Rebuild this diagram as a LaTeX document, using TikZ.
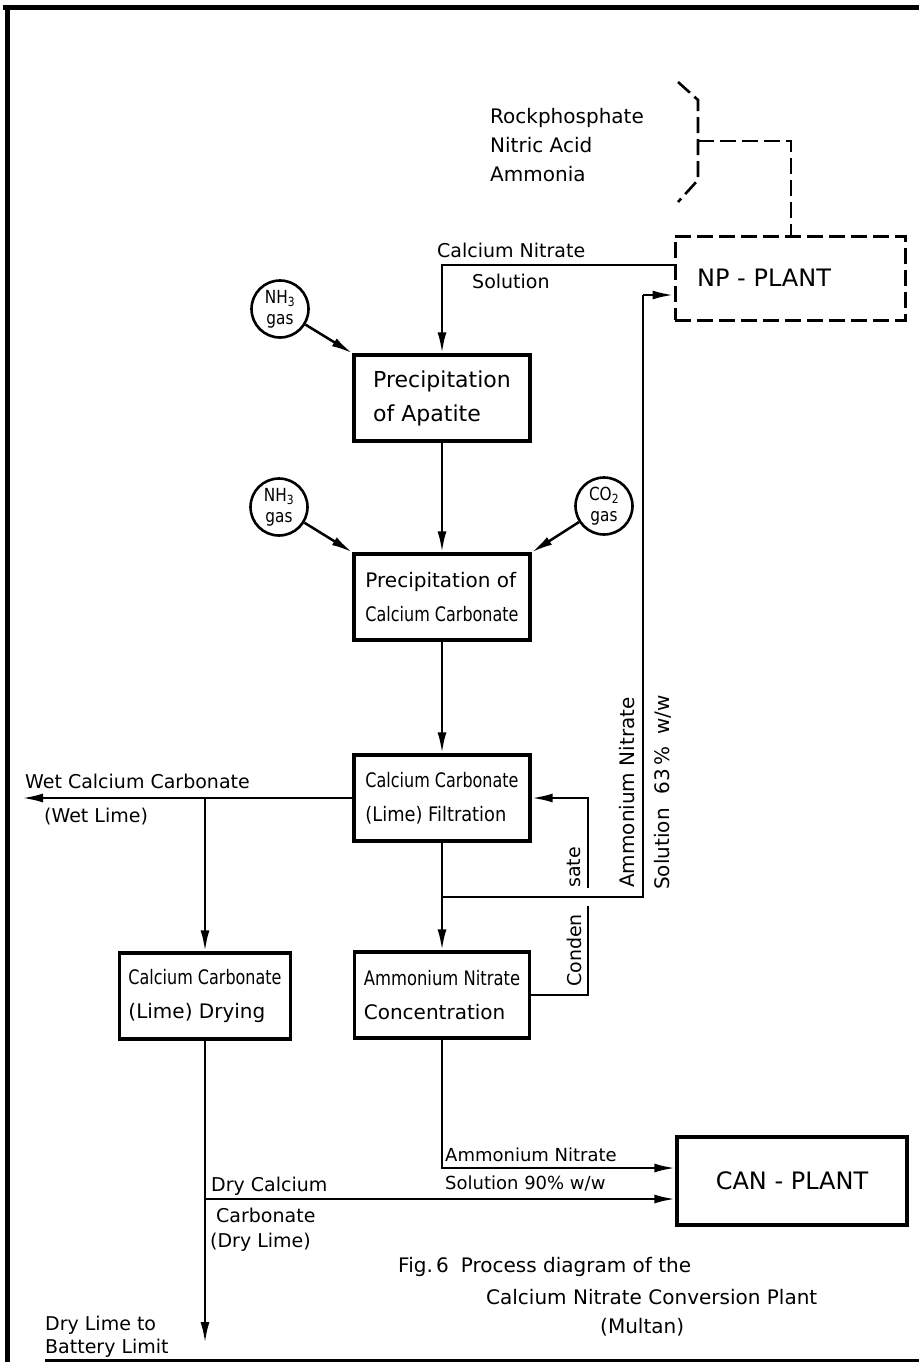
\documentclass[tikz,border=0pt]{standalone}
\usepackage{fontspec}
\setmainfont{DejaVu Sans}
\usepackage{graphicx}
\usetikzlibrary{arrows.meta}
\newcommand{\sq}[2]{\scalebox{#1}[1]{#2}}
\begin{document}
\begin{tikzpicture}[x=1pt,y=-1pt,
  box/.style={draw,line width=3.4pt,minimum width=176pt,minimum height=86pt,inner sep=0pt,align=left,font=\fontsize{20}{34}\selectfont},
  gas/.style={draw,circle,line width=2.6pt,minimum size=57pt,inner sep=0pt,align=center,font=\fontsize{18}{21}\selectfont},
  flow/.style={line width=2.5pt},
  arr/.style={flow,-{Latex[length=21pt,width=9pt]}},
  lbl/.style={font=\fontsize{19}{28}\selectfont,inner sep=0pt},
  dsh/.style={line width=2.6pt,dash pattern=on 16pt off 6pt},
]
\useasboundingbox (0,0) rectangle (919,1362);
% frame
\draw[line width=5pt] (3,8) -- (919,8);
\draw[line width=5pt] (7,8) -- (7,1362);
\draw[line width=3pt] (45,1360) -- (919,1360);

% NP plant
\node[draw,dsh,line width=3pt,minimum width=230pt,minimum height=84pt] (np) at (790,278) {};
\node[lbl,anchor=west,font=\fontsize{24}{28}\selectfont] (nplbl) at (697,278) {NP - PLANT};
\node[lbl,anchor=north west,align=left,font=\fontsize{20}{29}\selectfont] (feed) at (490,108) {Rockphosphate\\Nitric Acid\\Ammonia};
\coordinate (bt) at (678,82);
\coordinate (bk1) at (698,100);
\coordinate (bk2) at (698,180);
\coordinate (bb) at (678,202);
\coordinate (brk) at (698,141);
\coordinate (npin) at (791,141);
\draw[dsh] (bt) -- (bk1) -- (bk2) -- (bb);
\draw[dsh] (brk) -- (npin) -- (npin |- np.north);

% process boxes
\node[box,font=\fontsize{22}{34}\selectfont] (apa) at (442,398) {Precipitation\\ of Apatite};
\node[box] (pcc) at (442,597) {Precipitation of\\\sq{0.8}{Calcium Carbonate}};
\node[box] (filt) at (442,798) {\sq{0.8}{Calcium Carbonate}\\\sq{0.89}{(Lime) Filtration}};
\node[box,minimum width=171pt] (dry) at (205,996) {\sq{0.8}{Calcium Carbonate}\\(Lime) Drying};
\node[box,minimum width=175pt] (conc) at (442,995) {\sq{0.82}{Ammonium Nitrate}\\Concentration};
\node[box,minimum width=230pt,minimum height=88pt,font=\fontsize{24}{28}\selectfont] (can) at (792,1181) {CAN - PLANT};

% gas circles
\node[gas] (nh3a) at (280,309) {\sq{0.85}{NH\textsubscript{3}}\\\sq{0.85}{gas}};
\node[gas] (nh3b) at (279,507) {\sq{0.85}{NH\textsubscript{3}}\\\sq{0.85}{gas}};
\node[gas] (co2) at (604,506) {\sq{0.85}{CO\textsubscript{2}}\\\sq{0.85}{gas}};
\draw[arr] (nh3a) -- (apa.north west);
\draw[arr] (nh3b) -- (pcc.north west);
\draw[arr] (co2) -- (pcc.north east);

% calcium nitrate solution
\coordinate (cnst) at (675,265);
\draw[arr] (cnst) -| (apa.north);
\node[lbl,anchor=west] (cnl1) at (437,250) {Calcium Nitrate};
\node[lbl,anchor=west] (cnl2) at (472,281) {Solution};

% main chain
\draw[arr] (apa.south) -- (pcc.north);
\draw[arr] (pcc.south) -- (filt.north);
\draw[arr] (filt.south) -- (conc.north);

% wet lime
\coordinate (wetend) at (22,798);
\coordinate (wetbr) at (205,798);
\draw[arr] (filt.west) -- (wetend);
\draw[arr] (wetbr) -- (dry.north);
\node[lbl,anchor=west] (wl1) at (25,781) {Wet Calcium Carbonate};
\node[lbl,anchor=west] (wl2) at (44,817) {(Wet Lime)};

% ammonium nitrate 63% back to NP plant
\coordinate (jn) at (442,897);
\coordinate (anc) at (643,897);
\coordinate (ant) at (643,295);
\draw[flow] (jn) -- (anc) -- (ant);
\draw[arr] (ant) -- (ant -| np.west);
\node[lbl,rotate=90,anchor=west,font=\fontsize{20}{28}\selectfont] (an1) at (627,888) {Ammonium Nitrate};
\node[lbl,rotate=90,anchor=west,font=\fontsize{20}{28}\selectfont] (an2) at (663,890) {Solution\hspace{14pt}63\,\%\hspace{12pt}w/w};

% condensate
\coordinate (cg1) at (588,906);
\coordinate (cg2) at (588,888);
\draw[flow] (conc.east) -| (cg1);
\draw[arr] (cg2) |- (filt.east);
\node[lbl,rotate=90,anchor=west] (cd1) at (574,987) {Conden};
\node[lbl,rotate=90,anchor=west] (cd2) at (574,888) {sate};

% dry lime
\coordinate (dryend) at (205,1343);
\coordinate (drybr) at (205,1199);
\draw[arr] (dry.south) -- (dryend);
\draw[arr] (drybr) -- (drybr -| can.west);
\node[lbl,anchor=west] (dl1) at (211,1186) {Dry Calcium};
\node[lbl,anchor=west] (dl2) at (216,1215) {Carbonate};
\node[lbl,anchor=west] (dl3) at (210,1242) {(Dry Lime)};
\node[lbl,anchor=west,align=left,font=\fontsize{19}{23}\selectfont] (dlb) at (45,1337) {Dry Lime to\\Battery Limit};

% ammonium nitrate 90%
\coordinate (an9) at (442,1168);
\draw[arr] (conc.south) -- (an9) -- (an9 -| can.west);
\node[lbl,anchor=west,font=\fontsize{18}{28}\selectfont] (a91) at (445,1155) {Ammonium Nitrate};
\node[lbl,anchor=west,font=\fontsize{18}{28}\selectfont] (a92) at (445,1183) {Solution 90\% w/w};

% caption
\node[lbl,anchor=west,font=\fontsize{20}{28}\selectfont] (cap1) at (398,1267) {Fig.\,6\hspace{12pt}Process diagram of the};
\node[lbl,anchor=west,font=\fontsize{20}{28}\selectfont] (cap2) at (486,1297) {Calcium Nitrate Conversion Plant};
\node[lbl,anchor=west,font=\fontsize{20}{28}\selectfont] (cap3) at (600,1327) {(Multan)};
\end{tikzpicture}
\end{document}
